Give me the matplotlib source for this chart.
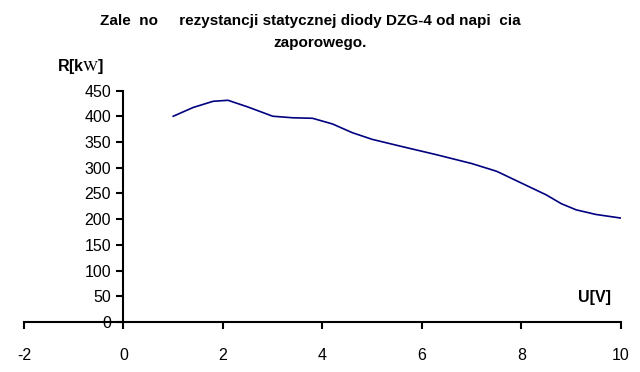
import matplotlib
matplotlib.use("Agg")
import matplotlib.pyplot as plt

# napiecie zaporowe [V] i rezystancja statyczna [kOhm]
U = [1.0, 1.4, 1.8, 2.1, 2.5, 3.0, 3.4, 3.8, 4.2, 4.6, 5.0,
     5.6, 6.3, 7.0, 7.5, 8.0, 8.5, 8.8, 9.1, 9.5, 10.0]
R = [400, 417, 429, 431, 418, 400, 397, 396, 385, 368, 355,
     341, 325, 308, 293, 270, 247, 230, 218, 209, 202]

xticks = [-2, 0, 2, 4, 6, 8, 10]
yticks = [0, 50, 100, 150, 200, 250, 300, 350, 400, 450]

plt.rcParams['font.family'] = ['Liberation Sans', 'DejaVu Sans']
plt.rcParams['mathtext.fontset'] = 'stix'
plt.rcParams['axes.unicode_minus'] = False

fig = plt.figure(figsize=(6.4, 3.72), dpi=100)
ax = fig.add_axes([0.0375, 0.1344, 0.9328, 0.6223])

ax.plot(U, R, color='#000080', linewidth=1.2)

ax.set_xlim(-2, 10)
ax.set_ylim(0, 450)
ax.set_xticks(xticks)
ax.set_yticks(yticks)

ax.spines['left'].set_position(('data', 0))
ax.spines['bottom'].set_position(('data', 0))
ax.spines['right'].set_visible(False)
ax.spines['top'].set_visible(False)
for s in ('left', 'bottom'):
    ax.spines[s].set_linewidth(1.5)

ax.tick_params(axis='both', direction='out', length=5, width=1.5,
               labelsize=11.5, pad=4)
ax.tick_params(axis='x', pad=14)

fig.text(0.485, 0.943, 'Zale  no     rezystancji statycznej diody DZG-4 od napi  cia',
         ha='center', va='center', fontsize=11, fontweight='bold')
fig.text(0.5, 0.885, 'zaporowego.', ha='center', va='center',
         fontsize=11, fontweight='bold')

fig.text(0.089, 0.82, r'R[k$\mathrm{W}$]', ha='left', va='center',
         fontsize=11.5, fontweight='bold')
fig.text(0.954, 0.2, 'U[V]', ha='right', va='center',
         fontsize=11.5, fontweight='bold')

fig.savefig('out.png', dpi=100)
